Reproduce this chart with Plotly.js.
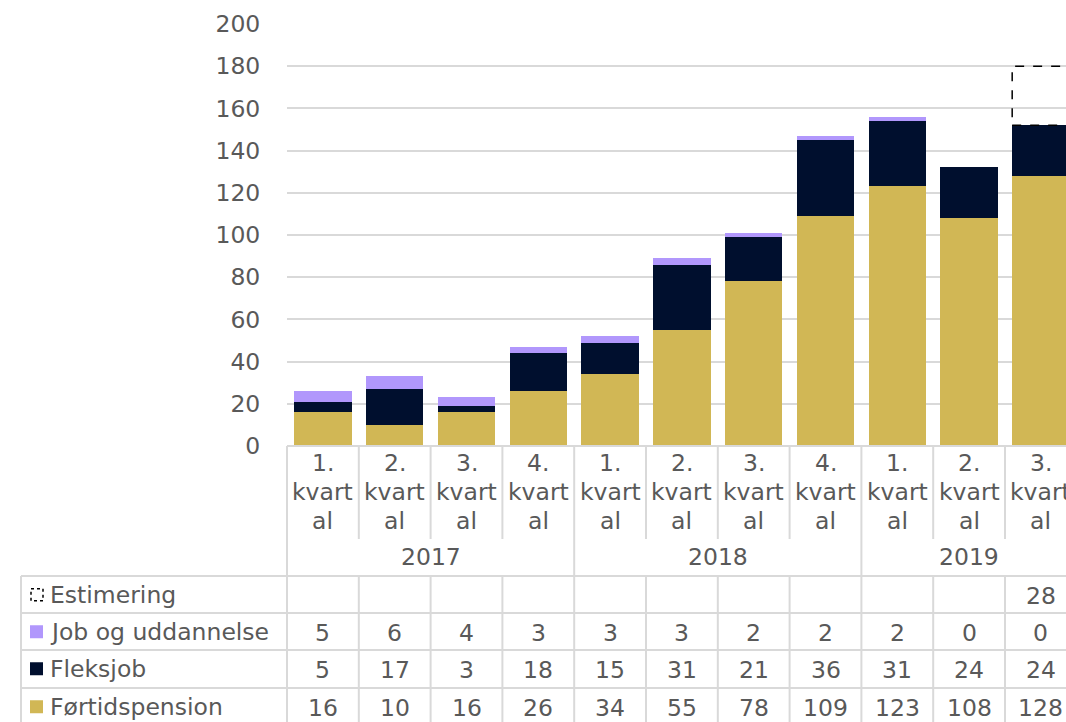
<!DOCTYPE html>
<html>
<head>
<meta charset="utf-8">
<script src="https://cdn.plot.ly/plotly-3.0.1.min.js"></script>
<style>
html,body{margin:0;padding:0;overflow:hidden;background:#fff;}
#chart{width:1066px;height:722px;}
</style>
</head>
<body>
<div id="chart"></div>
<script>
// ---- data ----
const quarterLabels = ["1.","2.","3.","4.","1.","2.","3.","4.","1.","2.","3."];
const quarterWord = ["kvart","al"];
const years = ["2017","2018","2019"];
const yearSizes = [4,4,3];
const fortidspension = [16,10,16,26,34,55,78,109,123,108,128];
const fleksjob = [5,17,3,18,15,31,21,36,31,24,24];
const jobOgUddannelse = [5,6,4,3,3,3,2,2,2,0,0];
const estimering = [null,null,null,null,null,null,null,null,null,null,28];
const seriesNames = ["Estimering","Job og uddannelse","Fleksjob","Førtidspension"];

// ---- style ----
const cGold = "#D1B755", cNavy = "#000F2E", cLav = "#B197FC", cGrid = "#D9D9D9", cText = "#595959";
const FONT = "'DejaVu Sans', sans-serif";
const FS = 23.5;
const W = 1066, H = 722, L = 287, T = 24, AXB = 446;
const R = 0;
const catW = 71.8;
const n = quarterLabels.length;
const xr1 = (W - L) / catW - 0.5;      // visible range end (last category cut by page edge, as in the reference)
const xRange = [-0.5, xr1];
const bargap = 0.2;

const px2x = px => (px - L) / (W - R - L);
const py2y = py => (AXB - py) / (AXB - T);
const xs = quarterLabels.map((_, i) => i);
function edgePx(k){ return L + k * catW; } // k-th category boundary

const traces = [
  {type:"bar", x:xs, y:fortidspension, name:seriesNames[3], marker:{color:cGold}, hoverinfo:"y"},
  {type:"bar", x:xs, y:fleksjob, name:seriesNames[2], marker:{color:cNavy}, hoverinfo:"y"},
  {type:"bar", x:xs, y:jobOgUddannelse, name:seriesNames[1], marker:{color:cLav}, hoverinfo:"y"}
];

const shapes = [];
const annotations = [];
const lineStyle = {color:cGrid, width:2};

// estimation dashed box
estimering.forEach((v, i) => {
  if (v == null) return;
  const base = fortidspension[i] + fleksjob[i] + jobOgUddannelse[i];
  const half = (1 - bargap) / 2;
  shapes.push({type:"rect", xref:"x", yref:"y", x0:i - half, x1:i + half, y0:base, y1:base + v,
    line:{color:"#000", width:1.5, dash:"dash"}, fillcolor:"rgba(0,0,0,0)", layer:"above"});
});

// table geometry (pixels)
const yQuarterBottom = 539, yHeader = 576;
const rowTops = [576, 613, 650, 688];
const rowH = 37.5;
const tableLeft = 21;
const tableBottom = 730;

shapes.push({type:"line", xref:"paper", yref:"paper", x0:px2x(L), x1:px2x(W+5), y0:py2y(AXB), y1:py2y(AXB), line:lineStyle});
rowTops.forEach(py => shapes.push({type:"line", xref:"paper", yref:"paper", x0:px2x(tableLeft), x1:px2x(W+5), y0:py2y(py), y1:py2y(py), line:lineStyle}));
shapes.push({type:"line", xref:"paper", yref:"paper", x0:px2x(tableLeft), x1:px2x(tableLeft), y0:py2y(rowTops[0]), y1:py2y(tableBottom), line:lineStyle});
const yearStarts = [0];
yearSizes.forEach((s, k) => yearStarts.push(yearStarts[k] + s));
for (let k = 0; k <= n; k++) {
  const px = edgePx(k);
  if (px > W + 2) continue;
  const isYear = yearStarts.includes(k);
  shapes.push({type:"line", xref:"paper", yref:"paper", x0:px2x(px), x1:px2x(px), y0:py2y(AXB), y1:py2y(isYear ? yHeader : yQuarterBottom), line:lineStyle});
  shapes.push({type:"line", xref:"paper", yref:"paper", x0:px2x(px), x1:px2x(px), y0:py2y(rowTops[0]), y1:py2y(tableBottom), line:lineStyle});
}

const tfont = {family:FONT, size:FS, color:cText};
quarterLabels.forEach((q, i) => {
  [q, quarterWord[0], quarterWord[1]].forEach((t, j) => {
    annotations.push({xref:"x", yref:"paper", x:i, y:py2y(463 + j * 29), text:t, showarrow:false, xanchor:"center", yanchor:"middle", font:tfont});
  });
});
years.forEach((yv, k) => {
  const mid = yearStarts[k] + (yearSizes[k] - 1) / 2;
  annotations.push({xref:"x", yref:"paper", x:mid, y:py2y(557), text:yv, showarrow:false, xanchor:"center", yanchor:"middle", font:tfont});
});
const rowData = [estimering, jobOgUddannelse, fleksjob, fortidspension];
const keyColors = [null, cLav, cNavy, cGold];
rowData.forEach((arr, r) => {
  const cy = rowTops[r] + rowH / 2;
  annotations.push({xref:"paper", yref:"paper", x:px2x(48), y:py2y(cy), text:seriesNames[r], showarrow:false, xanchor:"left", yanchor:"middle", font:tfont});
  if (keyColors[r]) {
    shapes.push({type:"rect", xref:"paper", yref:"paper", x0:px2x(30), x1:px2x(43), y0:py2y(cy - 6.5), y1:py2y(cy + 6.5), line:{width:0}, fillcolor:keyColors[r]});
  } else {
    shapes.push({type:"rect", xref:"paper", yref:"paper", x0:px2x(31), x1:px2x(43), y0:py2y(cy - 6), y1:py2y(cy + 6), line:{width:1.5, color:"#000", dash:"dot"}, fillcolor:"rgba(0,0,0,0)"});
  }
  arr.forEach((v, i) => {
    if (v == null) return;
    annotations.push({xref:"x", yref:"paper", x:i, y:py2y(cy + 1), text:String(v), showarrow:false, xanchor:"center", yanchor:"middle", font:tfont});
  });
});

const layout = {
  width:W, height:H,
  margin:{l:L, r:R, t:T, b:H - AXB, pad:0},
  paper_bgcolor:"#fff", plot_bgcolor:"#fff",
  barmode:"stack", bargap:bargap,
  showlegend:false,
  font:{family:FONT, size:FS, color:cText},
  xaxis:{range:xRange, showticklabels:false, showgrid:false, zeroline:false, showline:false, ticks:"", fixedrange:true},
  yaxis:{range:[0,200], dtick:20, tick0:0, showgrid:true, gridcolor:cGrid, gridwidth:2, zeroline:false, showline:false,
         ticks:"outside", ticklen:21, tickcolor:"rgba(0,0,0,0)", tickfont:{family:FONT, size:FS, color:cText}, fixedrange:true},
  shapes:shapes, annotations:annotations
};

Plotly.newPlot("chart", traces, layout, {displayModeBar:false, staticPlot:true});
</script>
</body>
</html>
